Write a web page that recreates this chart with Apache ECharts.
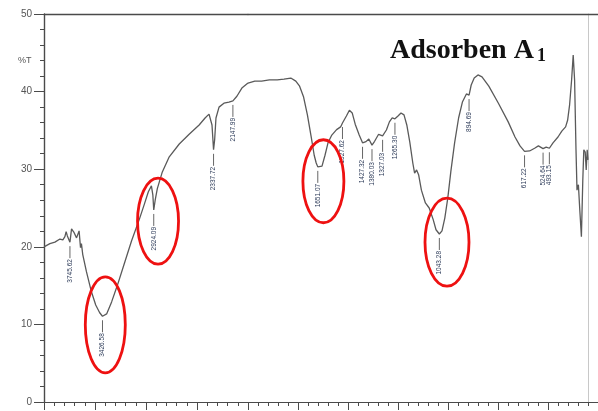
<!DOCTYPE html>
<html>
<head>
<meta charset="utf-8">
<script src="https://cdn.jsdelivr.net/npm/echarts@6/dist/echarts.min.js"></script>
<style>
  html, body { margin: 0; padding: 0; background: #fff; }
  #chart { width: 598px; height: 411px; }
</style>
</head>
<body>
<div id="chart"></div>
<script>
// FTIR spectrum of adsorbent A1, 4000–2000 cm-1 section (compressed scale)
const wnHigh = [4000, 3942, 3893, 3844, 3815, 3795, 3783, 3771, 3745.62, 3730,
  3708, 3681, 3656, 3642, 3633, 3620, 3584, 3535, 3493, 3454,
  3426.58, 3386, 3337, 3279, 3210, 3142, 3064, 3016, 2977, 2947,
  2933, 2924.09, 2910, 2889, 2840, 2772, 2674, 2577, 2479, 2421,
  2382, 2367, 2353, 2337.72, 2327, 2314, 2284, 2236, 2187, 2147.99,
  2109, 2060, 2000];
const tHigh = [20.0, 20.4, 20.6, 21.0, 20.9, 21.3, 21.95, 21.4, 20.6, 22.3,
  21.9, 21.15, 22.05, 19.9, 20.4, 19.0, 16.8, 14.2, 12.5, 11.5,
  11.05, 11.35, 12.9, 15.1, 17.95, 20.75, 23.6, 25.5, 27.1, 27.85,
  26.7, 24.75, 26.0, 27.5, 29.65, 31.6, 33.25, 34.5, 35.7, 36.6,
  37.1, 37.2, 35.7, 32.5, 33.8, 36.6, 38.0, 38.5, 38.65, 38.8,
  39.4, 40.45, 41.1];

// 2000–300 cm-1 section (expanded scale)
const wnLow = [2000, 1966, 1932, 1893, 1854, 1820, 1786, 1761, 1742, 1722,
  1703, 1683, 1669, 1659, 1651.07, 1630, 1615, 1600, 1581, 1557,
  1537, 1527.62, 1520, 1508, 1493, 1479, 1464, 1444, 1427.32, 1410,
  1396, 1380.03, 1367, 1347, 1327.03, 1308, 1293, 1279, 1265.30, 1250,
  1235, 1220, 1206, 1191, 1176, 1167, 1157, 1147, 1133, 1113,
  1094, 1074, 1060, 1043.28, 1030, 1016, 1001, 986, 967, 947,
  928, 908, 894.69, 884, 869, 850, 830, 796, 748, 699,
  665, 640, 617.22, 592, 567, 548, 524.64, 509, 493.15, 475,
  450, 431, 412, 402, 392, 382, 374, 367, 360, 355,
  348, 341, 333, 326, 321, 314, 309, 304, 300];
const tLow = [41.1, 41.35, 41.35, 41.5, 41.5, 41.6, 41.75, 41.35, 40.7, 39.3,
  37.0, 34.0, 31.8, 30.8, 30.3, 30.4, 31.8, 33.4, 34.4, 35.1,
  35.45, 35.95, 35.7, 36.85, 37.6, 37.25, 35.8, 34.4, 33.4, 33.55,
  33.9, 33.1, 33.6, 34.5, 34.3, 35.05, 36.1, 36.6, 36.5, 36.85,
  37.25, 37.0, 35.7, 33.5, 30.8, 29.5, 29.9, 29.3, 27.3, 25.65,
  25.0, 23.5, 22.2, 21.65, 22.05, 23.7, 26.3, 29.65, 33.4, 36.6,
  38.65, 39.7, 39.55, 40.85, 41.75, 42.15, 41.9, 40.7, 38.5, 36.1,
  34.15, 33.0, 32.3, 32.35, 32.7, 33.0, 32.65, 32.85, 32.7, 33.4,
  34.15, 34.9, 35.45, 36.3, 38.3, 41.5, 44.7, 41.5, 32.5, 27.3,
  28.0, 24.75, 21.3, 28.6, 32.5, 32.2, 29.9, 32.5, 31.2];

// Labelled band positions (cm-1)
const peaksHigh = [3745.62, 3426.58, 2924.09, 2337.72, 2147.99];
const peaksLow = [1651.07, 1527.62, 1427.32, 1380.03, 1327.03, 1265.30,
  1043.28, 894.69, 617.22, 524.64, 493.15];

// Highlighted bands: ellipse centres (cm-1, %T)
const ringWnHigh = [3399, 2882];
const ringTHigh = [9.95, 23.3];
const ringWnLow = [1623, 1005];
const ringTLow = [28.45, 20.6];

const yTickValues = [0, 10, 20, 30, 40, 50];

// ---- helpers -------------------------------------------------------------
const zip = (a, b) => a.map((v, i) => [v, b[i]]);
const peakPoints = (peaks, wn, t) => peaks.map(w => [w, t[wn.indexOf(w)]]);

// ellipse radii in pixels [rx, ry]
const ringSizeHigh = [[20, 48], [20.5, 43]];
const ringSizeLow = [[20.5, 41.5], [22, 44]];

const lineColor = '#5a5a5a';
const axisColor = '#4a4a4a';

function renderPeak(params, api) {
  const p = api.coord([api.value(0), api.value(1)]);
  const text = api.value(0).toFixed(2);
  const y0 = p[1] + 4;
  const y1 = y0 + 12;
  return {
    type: 'group',
    children: [
      { type: 'line', shape: { x1: p[0], y1: y0, x2: p[0], y2: y1 },
        style: { stroke: '#666', lineWidth: 1 } },
      { type: 'text', x: p[0], y: y1 + 1, rotation: Math.PI / 2,
        style: { text: text, x: 0, y: 0, align: 'right', verticalAlign: 'middle',
                 font: '6.5px "Liberation Sans", Arial, sans-serif', fill: '#2c3a58' } }
    ]
  };
}

function makeRingRenderer(sizes) {
  return function (params, api) {
    const p = api.coord([api.value(0), api.value(1)]);
    const s = sizes[params.dataIndex];
    return {
      type: 'ellipse',
      shape: { cx: p[0], cy: p[1], rx: s[0], ry: s[1] },
      style: { fill: 'none', stroke: '#ee1111', lineWidth: 2.8 }
    };
  };
}

const gridTop = 14, gridHeight = 388;

const bottomAxis = (grid, min, max, interval) => ({
  type: 'value', gridIndex: grid, min: min, max: max, interval: interval,
  inverse: true, position: 'bottom',
  axisLine: { show: true, lineStyle: { color: axisColor, width: 1.2 } },
  axisTick: { show: true, inside: false, length: 8, lineStyle: { color: axisColor } },
  minorTick: { show: true, splitNumber: 5, length: 4, lineStyle: { color: axisColor } },
  axisLabel: { show: false },
  splitLine: { show: false }
});

const topAxis = (grid, min, max) => ({
  type: 'value', gridIndex: grid, min: min, max: max, inverse: true, position: 'top',
  axisLine: { show: true, lineStyle: { color: axisColor, width: 1.4 } },
  axisTick: { show: false }, axisLabel: { show: false }, splitLine: { show: false }
});

const chart = echarts.init(document.getElementById('chart'), null, { renderer: 'canvas' });

chart.setOption({
  animation: false,
  backgroundColor: '#ffffff',
  grid: [
    { left: 44, top: gridTop, width: 204, height: gridHeight },
    { left: 248, top: gridTop, width: 359, height: gridHeight }
  ],
  xAxis: [
    bottomAxis(0, 2000, 4000, 500),
    bottomAxis(1, 250, 2000, 250),
    topAxis(0, 2000, 4000),
    topAxis(1, 250, 2000)
  ],
  yAxis: [
    {
      type: 'value', gridIndex: 0, min: 0, max: 50, interval: 10,
      axisLine: { show: true, lineStyle: { color: axisColor, width: 1.4 } },
      axisTick: { show: true, inside: false, length: 10, lineStyle: { color: axisColor } },
      minorTick: { show: true, splitNumber: 5, length: 4, lineStyle: { color: axisColor } },
      axisLabel: {
        margin: 12, fontSize: 10, color: '#555',
        fontFamily: '"Liberation Sans", Arial, sans-serif',
        customValues: yTickValues
      },
      splitLine: { show: false }
    },
    {
      type: 'value', gridIndex: 1, min: 0, max: 50, position: 'right', offset: -10,
      axisLine: { show: true, lineStyle: { color: '#c8c8c8', width: 1 } },
      axisTick: { show: false }, axisLabel: { show: false }, splitLine: { show: false }
    }
  ],
  series: [
    {
      type: 'line', xAxisIndex: 0, yAxisIndex: 0, data: zip(wnHigh, tHigh),
      showSymbol: false, symbol: 'none', lineStyle: { color: lineColor, width: 1.3 }
    },
    {
      type: 'line', xAxisIndex: 1, yAxisIndex: 1, data: zip(wnLow, tLow),
      showSymbol: false, symbol: 'none', lineStyle: { color: lineColor, width: 1.3 }
    },
    {
      type: 'custom', xAxisIndex: 0, yAxisIndex: 0, renderItem: renderPeak,
      data: peakPoints(peaksHigh, wnHigh, tHigh), z: 3
    },
    {
      type: 'custom', xAxisIndex: 1, yAxisIndex: 1, renderItem: renderPeak,
      data: peakPoints(peaksLow, wnLow, tLow), z: 3
    },
    {
      type: 'custom', xAxisIndex: 0, yAxisIndex: 0, renderItem: makeRingRenderer(ringSizeHigh),
      data: zip(ringWnHigh, ringTHigh), z: 5
    },
    {
      type: 'custom', xAxisIndex: 1, yAxisIndex: 1, renderItem: makeRingRenderer(ringSizeLow),
      data: zip(ringWnLow, ringTLow), z: 5
    }
  ],
  graphic: [
    {
      type: 'text', left: 18, top: 56,
      style: { text: '%T', font: '9px "Liberation Sans", Arial, sans-serif', fill: '#555' }
    },
    {
      type: 'text', x: 390, y: 37,
      style: { text: 'Adsorben A', font: 'bold 28px "Liberation Serif", "Times New Roman", serif',
               fill: '#111', verticalAlign: 'top' }
    },
    {
      type: 'text', x: 537, y: 47,
      style: { text: '1', font: 'bold 18px "Liberation Serif", "Times New Roman", serif',
               fill: '#111', verticalAlign: 'top' }
    }
  ]
});
</script>
</body>
</html>
